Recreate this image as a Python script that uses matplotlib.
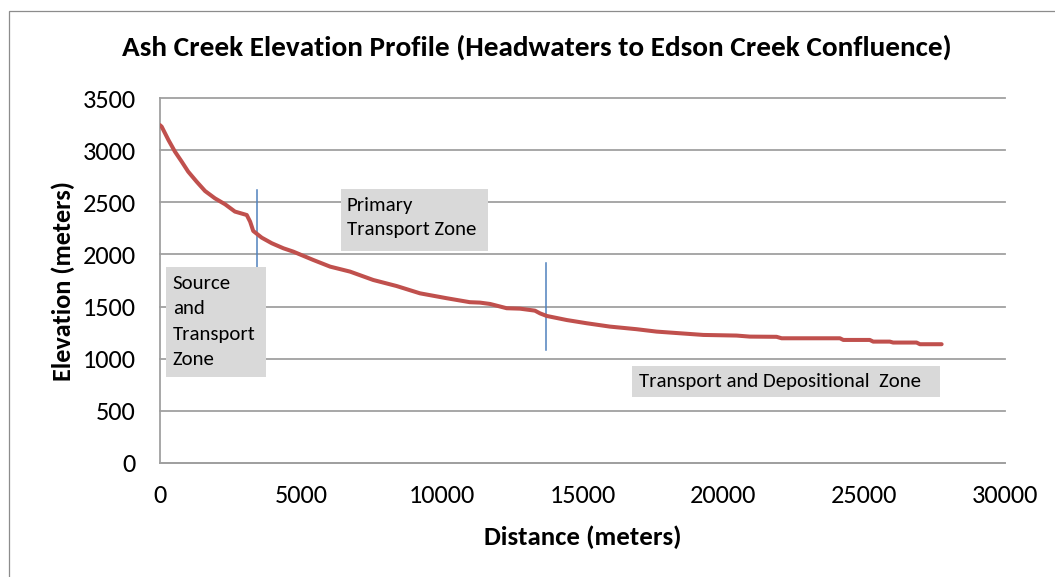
import matplotlib
matplotlib.use('Agg')
import matplotlib.pyplot as plt
from matplotlib.patches import Rectangle
from matplotlib import font_manager

names = {f.name for f in font_manager.fontManager.ttflist}
FONT = 'Carlito' if 'Carlito' in names else 'Lato'
plt.rcParams['font.family'] = [FONT, 'DejaVu Sans']

# ---------------- data ----------------
distance_m = [0, 60, 300, 530, 770, 1000, 1300, 1600, 1950, 2310, 2660, 3080,
              3200, 3310, 3610, 3970, 4380, 4730, 5440, 6040, 6750, 7570, 8400,
              9230, 10180, 11000, 11360, 11720, 12310, 12780, 13310, 13490,
              13730, 14440, 15150, 15970, 16920, 17630, 18460, 19290, 20470,
              20940, 21890, 22070, 24140, 24260, 25200, 25320, 25910, 26030,
              26860, 26980, 27750]
elevation_m = [3240, 3225, 3097, 2986, 2890, 2794, 2698, 2608, 2538, 2481, 2411,
               2378, 2314, 2225, 2161, 2107, 2059, 2027, 1947, 1883, 1835, 1755,
               1697, 1627, 1580, 1542, 1538, 1525, 1484, 1480, 1461, 1435, 1410,
               1371, 1340, 1308, 1283, 1260, 1244, 1228, 1222, 1212, 1210, 1196,
               1196, 1180, 1180, 1164, 1164, 1155, 1155, 1139, 1139]
x_ticks = [0, 5000, 10000, 15000, 20000, 25000, 30000]
y_ticks = [0, 500, 1000, 1500, 2000, 2500, 3000, 3500]
title = "Ash Creek Elevation Profile (Headwaters to Edson Creek Confluence)"
x_label = "Distance (meters)"
y_label = "Elevation (meters)"
boundary_x = [3430, 13700]
boundary_low = [1880, 1080]
boundary_high = [2620, 1915]
zone_source = ["Source", "and", "Transport", "Zone"]
zone_primary = ["Primary", "Transport Zone"]
zone_depo = ["Transport and Depositional  Zone"]

# ---------------- layout ----------------
W, H = 1055, 577
fig = plt.figure(figsize=(W / 100, H / 100), dpi=100)
renderer = fig.canvas.get_renderer()


def fx(x):
    return x / W


def fy(y):
    return 1 - y / H


def fit(s, target, weight='normal', base=20.0):
    t = fig.text(0, 0, s, fontsize=base, fontweight=weight)
    w = t.get_window_extent(renderer).width
    t.remove()
    return base * target / w


tick_fs = fit('15000', 67)
title_fs = fit(title, 830, 'bold')
xlab_fs = fit(x_label, 198, 'bold')
ylab_fs = fit(y_label, 201, 'bold')
ann_fs = fit('Transport', 82.3)

# outer chart border
fig.patches.append(Rectangle((fx(9), fy(620)), fx(1200) - fx(9), fy(11) - fy(620),
                             transform=fig.transFigure, fill=False,
                             edgecolor='#8C8C8C', lw=0.9, zorder=0))

ax = fig.add_axes([fx(160), fy(463), fx(1005) - fx(160), fy(98) - fy(463)])
ax.set_facecolor('none')
ax.plot(distance_m, elevation_m, color='#C0504D', lw=2.9,
        solid_joinstyle='round', solid_capstyle='round', zorder=3)
for bx, lo, hi in zip(boundary_x, boundary_low, boundary_high):
    ax.plot([bx, bx], [lo, hi], color='#4F81BD', lw=1.1, zorder=2)

ax.set_xlim(0, 30000)
ax.set_ylim(0, 3500)
ax.set_xticks(x_ticks)
ax.set_yticks(y_ticks)
ax.set_xticklabels([str(v) for v in x_ticks])
ax.set_yticklabels([str(v) for v in y_ticks])
ax.grid(axis='y', color='#A0A0A0', lw=1.3)
for gl in ax.get_ygridlines():
    gl.set_clip_on(False)
ax.set_axisbelow(True)
for s in ['top', 'right']:
    ax.spines[s].set_visible(False)
for s in ['left', 'bottom']:
    ax.spines[s].set_color('#A0A0A0')
    ax.spines[s].set_linewidth(1.3)
ax.tick_params(axis='both', length=0, labelsize=tick_fs, colors='black')
ax.tick_params(axis='y', pad=24 * 0.72)
ax.tick_params(axis='x', pad=21 * 0.72)

fig.text(fx(537), fy(56), title, fontsize=title_fs, fontweight='bold',
         ha='center', va='baseline')
fig.text(fx(582.5), fy(545), x_label, fontsize=xlab_fs, fontweight='bold',
         ha='center', va='baseline')
fig.text(fx(63), fy(281), y_label, fontsize=ylab_fs, fontweight='bold',
         ha='center', va='center', rotation=90)


def box(x0, y0, x1, y1):
    fig.patches.append(Rectangle((fx(x0), fy(y1)), fx(x1) - fx(x0), fy(y0) - fy(y1),
                                 transform=fig.transFigure, facecolor='#D9D9D9',
                                 edgecolor='none', zorder=5))


def lines(xs, baselines, texts):
    for b, s in zip(baselines, texts):
        fig.text(fx(xs), fy(b), s, fontsize=ann_fs, ha='left', va='baseline',
                 zorder=6)


box(166, 267, 266, 377)
lines(172.7, [289, 314.3, 339.6, 365], zone_source)
box(341, 189, 488, 251)
lines(346.7, [210.7, 235], zone_primary)
box(632, 366, 940, 397)
lines(639, [387.3], zone_depo)

fig.savefig('out.png', dpi=100)
